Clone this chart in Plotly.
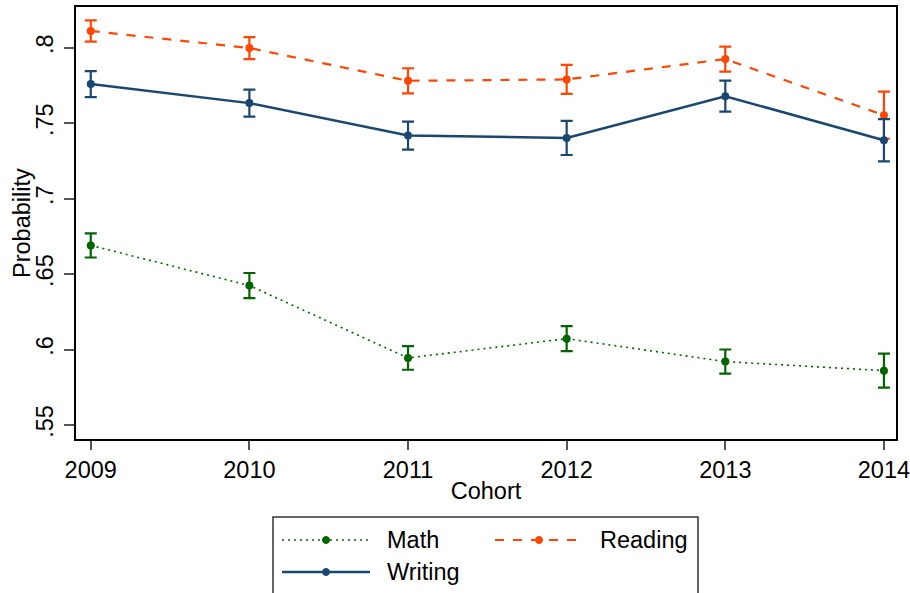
import plotly.graph_objects as go

cohorts = [2009, 2010, 2011, 2012, 2013, 2014]

math_p = [0.669, 0.6424, 0.5944, 0.6072, 0.592, 0.586]
math_ci = [0.008, 0.0083, 0.0078, 0.0083, 0.008, 0.0113]

reading_p = [0.8111, 0.7998, 0.7781, 0.779, 0.7925, 0.7553]
reading_ci = [0.007, 0.0073, 0.0083, 0.0096, 0.0083, 0.0156]

writing_p = [0.7759, 0.7633, 0.7418, 0.7402, 0.7679, 0.7387]
writing_ci = [0.0086, 0.009, 0.0093, 0.0113, 0.0103, 0.014]

y_ticks = [0.55, 0.6, 0.65, 0.7, 0.75, 0.8]
y_labels = [".55", ".6", ".65", ".7", ".75", ".8"]

GREEN = "#006400"
ORANGE = "#ff4500"
NAVY = "#1a476f"
FONT = "Liberation Sans, Arial, sans-serif"
FS = 23.5

# figure size and plot area in pixels
W, H = 910, 593
L, R, T, B = 76, 14, 7, 154


def px_x(px):
    return (px - L) / (W - L - R)


def px_y(py):
    return (H - B - py) / (H - T - B)


series = [
    ("Math", math_p, math_ci, GREEN, "2px,4px", 1.6),
    ("Reading", reading_p, reading_ci, ORANGE, "dash", 2.2),
    ("Writing", writing_p, writing_ci, NAVY, "solid", 2.5),
]

fig = go.Figure()
for name, vals, ci, col, dash, lw in series:
    fig.add_trace(go.Scatter(
        x=cohorts, y=vals, name=name, mode="lines+markers",
        line=dict(color=col, dash=dash, width=lw),
        marker=dict(color=col, size=8),
        error_y=dict(type="data", array=ci, visible=True, color=col,
                     thickness=2.2, width=6),
        showlegend=False))

fig.update_layout(
    width=W, height=H,
    margin=dict(l=L, r=R, t=T, b=B, autoexpand=False),
    paper_bgcolor="white", plot_bgcolor="white",
    font=dict(family=FONT, size=FS, color="black"),
    xaxis=dict(range=[2008.907, 2014.076], tickvals=cohorts,
               showgrid=False, zeroline=False, automargin=False,
               showline=True, linecolor="black", linewidth=2, mirror=True,
               ticks="outside", ticklen=9, tickwidth=2, tickcolor="#555555",
               tickfont=dict(size=FS), ticklabelstandoff=0,
               ticklabeloverflow="allow",
               title=dict(text="Cohort", font=dict(size=FS), standoff=0)),
    yaxis=dict(range=[0.5407, 0.827], tickvals=y_ticks, ticktext=y_labels,
               tickangle=-90, showgrid=False, zeroline=False, automargin=False,
               showline=True, linecolor="black", linewidth=2, mirror=True,
               ticks="outside", ticklen=10, tickwidth=2, tickcolor="#555555",
               tickfont=dict(size=FS), ticklabelstandoff=2),
)

# legend box, drawn below the plot like the original
shapes = [dict(type="rect", xref="paper", yref="paper",
               x0=px_x(273), x1=px_x(698), y0=px_y(600), y1=px_y(517),
               line=dict(color="#333333", width=1.5), fillcolor="white")]
annotations = [dict(text="Probability", xref="paper", yref="paper",
                    x=px_x(22), y=0.5, textangle=-90, showarrow=False,
                    xanchor="center", yanchor="middle", font=dict(size=FS))]
legend_pos = [("Math", 282, 370, 540), ("Reading", 495, 583, 540), ("Writing", 282, 370, 572)]
styles = {s[0]: s for s in series}
for name, x0, x1, yc in legend_pos:
    _, _, _, col, dash, lw = styles[name]
    shapes.append(dict(type="line", xref="paper", yref="paper",
                       x0=px_x(x0), x1=px_x(x1), y0=px_y(yc), y1=px_y(yc),
                       line=dict(color=col, dash=dash, width=lw)))
    xm = (x0 + x1) / 2
    shapes.append(dict(type="circle", xref="paper", yref="paper",
                       x0=px_x(xm - 3.5), x1=px_x(xm + 3.5),
                       y0=px_y(yc + 3.5), y1=px_y(yc - 3.5),
                       line=dict(color=col, width=1), fillcolor=col))
    annotations.append(dict(text=name, xref="paper", yref="paper",
                            x=px_x(x1 + 15), y=px_y(yc), xanchor="left",
                            yanchor="middle", showarrow=False,
                            font=dict(size=FS)))

fig.update_layout(shapes=shapes, annotations=annotations)

fig.write_html("out.html", config={"displayModeBar": False},
               post_script="document.body.style.margin='0px';"
                           "document.body.style.overflow='hidden';"
                           "document.documentElement.style.overflow='hidden';")
